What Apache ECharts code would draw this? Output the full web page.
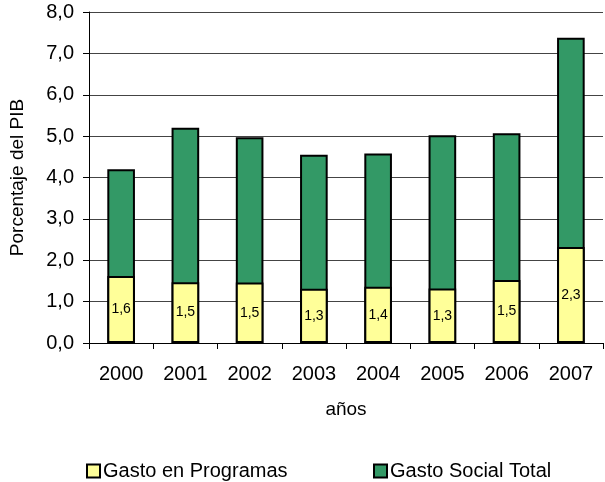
<!DOCTYPE html>
<html><head><meta charset="utf-8">
<script src="https://cdn.jsdelivr.net/npm/echarts@6/dist/echarts.min.js"></script>
<style>html,body{margin:0;padding:0;background:#fff}#c{width:605px;height:482px}</style>
</head><body><div id="c"></div>
<script>
const years = ['2000','2001','2002','2003','2004','2005','2006','2007'];
const gastoProgramas = [1.62, 1.47, 1.46, 1.31, 1.36, 1.32, 1.52, 2.32];
const gastoSocialTotal = [4.2, 5.2, 4.97, 4.55, 4.58, 5.02, 5.07, 7.38];
const yTicks = {min: 0, max: 8, interval: 1};

const fmt = v => v.toFixed(1).replace('.', ',');
const font = 'Liberation Sans, Arial, sans-serif';
const chart = echarts.init(document.getElementById('c'), null, {renderer: 'canvas'});
chart.setOption({
  animation: false,
  textStyle: {fontFamily: font},
  grid: {left: 88, right: 2, top: 12, bottom: 139},
  legend: [
    {data: ['Gasto en Programas'], left: 81, top: 456, itemWidth: 13, itemHeight: 13, itemGap: 6,
     textStyle: {fontSize: 20, color: '#000', fontFamily: font, padding: [0, 0, 0, -2]}, icon: 'rect',
     itemStyle: {borderColor: '#000', borderWidth: 2}},
    {data: ['Gasto Social Total'], left: 368, top: 456, itemWidth: 13, itemHeight: 13,
     textStyle: {fontSize: 20, color: '#000', fontFamily: font, padding: [0, 0, 0, -2]}, icon: 'rect',
     itemStyle: {borderColor: '#000', borderWidth: 2}}
  ],
  xAxis: {
    type: 'category', data: years,
    name: 'años', nameLocation: 'middle', nameGap: 57,
    nameTextStyle: {fontSize: 19, color: '#000'},
    axisLine: {lineStyle: {color: '#000', width: 1}},
    axisTick: {show: true, length: 6, lineStyle: {color: '#000'}},
    axisLabel: {fontSize: 20, color: '#000', margin: 21}
  },
  yAxis: {
    type: 'value', min: yTicks.min, max: yTicks.max, interval: yTicks.interval,
    name: 'Porcentaje del PIB', nameLocation: 'middle', nameGap: 62,
    nameTextStyle: {fontSize: 19, color: '#000'},
    axisLine: {show: true, lineStyle: {color: '#000', width: 1}},
    axisTick: {show: true, length: 6, lineStyle: {color: '#000'}},
    axisLabel: {fontSize: 20, color: '#000', formatter: v => fmt(v), margin: 15},
    splitLine: {lineStyle: {color: '#444', width: 1}}
  },
  series: [
    {name: 'Gasto Social Total', type: 'bar', data: gastoSocialTotal, barWidth: '43%', barGap: '-100%', z: 2,
     itemStyle: {color: '#339966', borderColor: '#000', borderWidth: 2}},
    {name: 'Gasto en Programas', type: 'bar', data: gastoProgramas, barWidth: '43%', z: 3,
     itemStyle: {color: '#FFFF99', borderColor: '#000', borderWidth: 2},
     label: {show: true, position: 'inside', fontSize: 14, color: '#000', formatter: p => fmt(p.value)}}
  ]
});
</script></body></html>
